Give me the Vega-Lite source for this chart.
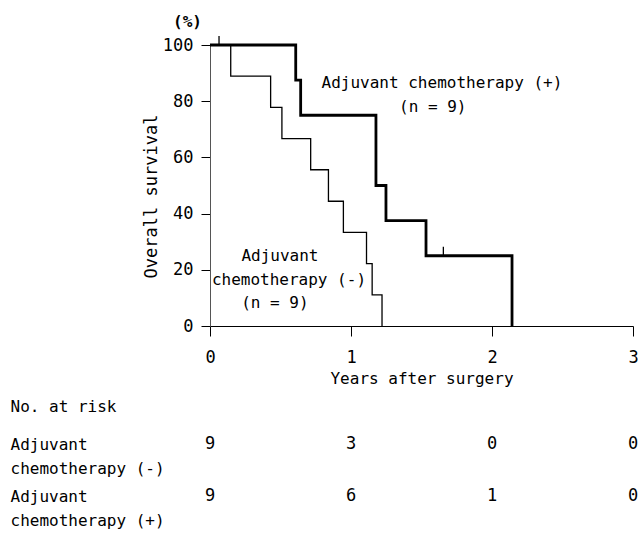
{
  "$schema": "https://vega.github.io/schema/vega-lite/v6.json",
  "width": 423,
  "height": 281,
  "autosize": "none",
  "padding": {"left": 210, "top": 45, "right": 5, "bottom": 212},
  "config": {
    "view": {"stroke": null},
    "font": "DejaVu Sans Mono",
    "text": {"font": "DejaVu Sans Mono", "color": "black"},
    "axis": {"labelFont": "DejaVu Sans Mono", "titleFont": "DejaVu Sans Mono", "labelColor": "black", "titleColor": "black", "grid": false}
  },
  "title": {"text": "(%)", "anchor": "start", "frame": "group", "dx": -37, "offset": 3, "fontSize": 16, "fontWeight": "bold", "font": "DejaVu Sans Mono", "color": "black"},
  "datasets": {
    "curves": [
      {"group": "-", "time": 0, "surv": 100},
      {"group": "-", "time": 0.147, "surv": 88.9},
      {"group": "-", "time": 0.43, "surv": 77.8},
      {"group": "-", "time": 0.51, "surv": 66.7},
      {"group": "-", "time": 0.714, "surv": 55.6},
      {"group": "-", "time": 0.84, "surv": 44.4},
      {"group": "-", "time": 0.946, "surv": 33.3},
      {"group": "-", "time": 1.11, "surv": 22.2},
      {"group": "-", "time": 1.15, "surv": 11.1},
      {"group": "-", "time": 1.22, "surv": 0},
      {"group": "+", "time": 0, "surv": 100},
      {"group": "+", "time": 0.608, "surv": 87.5},
      {"group": "+", "time": 0.643, "surv": 75},
      {"group": "+", "time": 1.177, "surv": 50},
      {"group": "+", "time": 1.248, "surv": 37.5},
      {"group": "+", "time": 1.532, "surv": 25},
      {"group": "+", "time": 2.142, "surv": 0}
    ],
    "censor": [
      {"group": "+", "time": 0.064, "surv": 100},
      {"group": "+", "time": 1.655, "surv": 25}
    ],
    "notes": [
      {"text": "Adjuvant chemotherapy (+)", "time": 1.645, "surv": 86.4},
      {"text": "(n = 9)", "time": 1.58, "surv": 78},
      {"text": "Adjuvant", "time": 0.496, "surv": 24.9},
      {"text": "chemotherapy (-)", "time": 0.56, "surv": 16.4},
      {"text": "(n = 9)", "time": 0.46, "surv": 8.1}
    ],
    "risk": [
      {"group": "(-)", "time": 0, "n": 9},
      {"group": "(-)", "time": 1, "n": 3},
      {"group": "(-)", "time": 2, "n": 0},
      {"group": "(-)", "time": 3, "n": 0},
      {"group": "(+)", "time": 0, "n": 9},
      {"group": "(+)", "time": 1, "n": 6},
      {"group": "(+)", "time": 2, "n": 1},
      {"group": "(+)", "time": 3, "n": 0}
    ]
  },
  "layer": [
    {
      "encoding": {
        "x": {
          "field": "time", "type": "quantitative",
          "scale": {"domain": [0, 3], "nice": false, "zero": false},
          "axis": {
            "values": [0, 1, 2, 3], "format": "d", "title": "Years after surgery",
            "domainColor": "black", "tickColor": "black", "tickSize": 10,
            "labelFontSize": 17, "labelPadding": 13, "labelFlush": false,
            "titleFontSize": 16, "titleFontWeight": "normal", "titlePadding": 5
          }
        },
        "y": {
          "field": "surv", "type": "quantitative",
          "scale": {"domain": [0, 100], "nice": false},
          "axis": {
            "values": [0, 20, 40, 60, 80, 100], "title": "Overall survival",
            "domainColor": "#555", "tickColor": "black", "tickSize": 9,
            "labelFontSize": 17, "labelPadding": 8, "labelFlush": false,
            "titleFontSize": 17, "titleFontWeight": "normal", "titlePadding": 2, "titleY": 151
          }
        }
      },
      "layer": [
        {
          "data": {"name": "curves"},
          "mark": {"type": "line", "interpolate": "step-after", "color": "black"},
          "encoding": {
            "detail": {"field": "group"},
            "strokeWidth": {"field": "group", "type": "nominal", "scale": {"domain": ["-", "+"], "range": [1.3, 2.8]}, "legend": null}
          }
        },
        {
          "data": {"name": "censor"},
          "mark": {"type": "point", "shape": "M0,-1L0,0", "size": 324, "filled": false, "stroke": "black", "strokeWidth": 1.3, "opacity": 1}
        },
        {
          "data": {"name": "notes"},
          "mark": {"type": "text", "fontSize": 16, "align": "center", "baseline": "middle", "color": "black"},
          "encoding": {"text": {"field": "text"}}
        }
      ]
    },
    {
      "data": {"name": "risk"},
      "mark": {"type": "text", "fontSize": 17, "align": "center", "baseline": "middle", "color": "black"},
      "encoding": {
        "x": {"field": "time", "type": "quantitative"},
        "y": {
          "field": "group", "type": "ordinal",
          "scale": {"type": "point", "domain": ["(-)", "(+)"], "range": [399, 451], "padding": 0},
          "axis": {
            "orient": "left", "domain": false, "ticks": false, "tickSize": 0,
            "labelExpr": "['Adjuvant', 'chemotherapy ' + datum.label]",
            "labelAlign": "left", "labelBaseline": "top", "labelPadding": 200, "labelOffset": -8,
            "labelLineHeight": 24, "labelFontSize": 16,
            "title": "No. at risk", "titleAngle": 0, "titleAlign": "left", "titleBaseline": "middle",
            "titleX": -200, "titleY": 361, "titleFontSize": 16, "titleFontWeight": "normal"
          }
        },
        "text": {"field": "n", "type": "quantitative"}
      }
    }
  ],
  "resolve": {"scale": {"y": "independent"}}
}
